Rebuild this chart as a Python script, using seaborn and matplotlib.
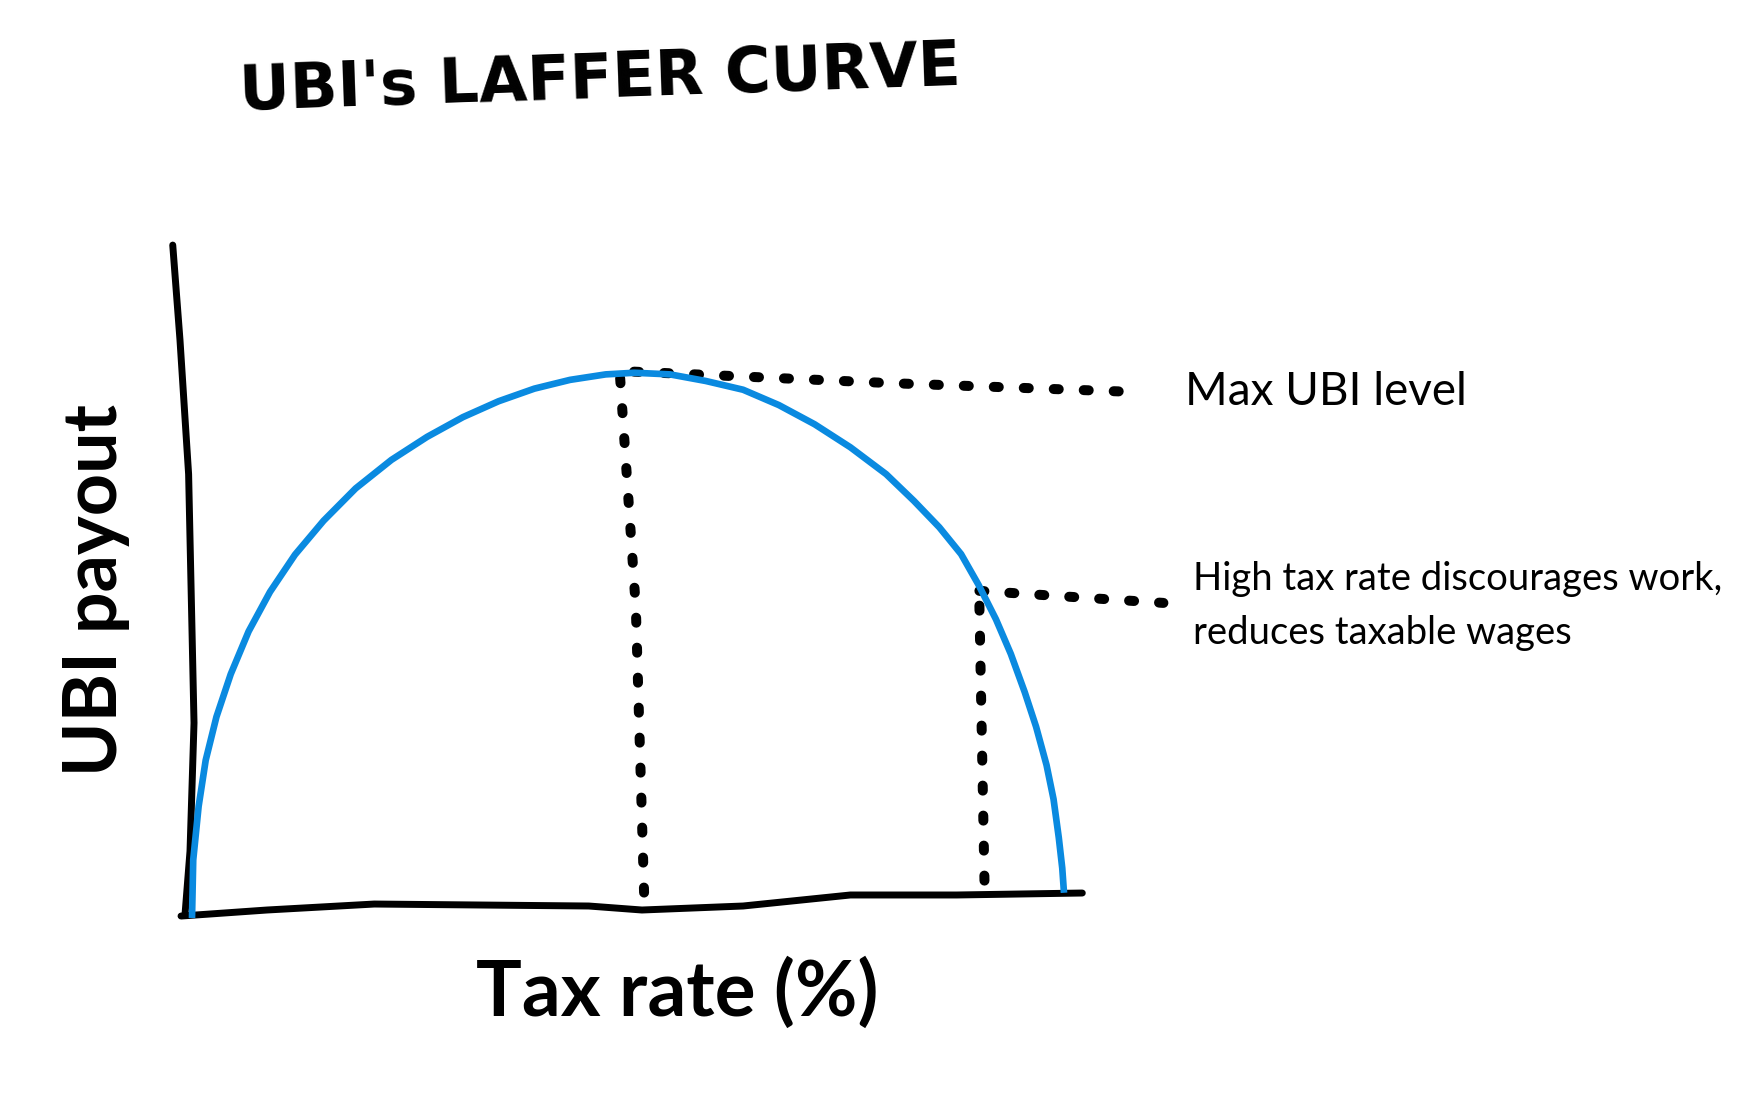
import matplotlib
matplotlib.use("Agg")
import matplotlib.pyplot as plt
import seaborn as sns
import pandas as pd

# ---- data (tax rate %, UBI payout as % of max) ----
curve_tax = [0.0, 0.14, 0.76, 1.57, 2.80, 4.44, 6.49, 8.94, 11.81, 15.09, 18.77,
             22.87, 26.96, 31.07, 35.16, 39.26, 43.35, 47.44, 50.72, 54.82, 58.91,
             63.2, 67.3, 71.4, 75.5, 79.6, 82.8, 85.7, 88.2, 90.2, 92.2, 93.9,
             95.5, 96.8, 98.0, 98.8, 99.4, 99.8, 100.0]
curve_pay = [0.0, 10.6, 20.4, 28.8, 36.7, 44.5, 52.3, 59.5, 66.3, 72.5, 78.4,
             83.6, 87.8, 91.4, 94.3, 96.6, 98.2, 99.2, 99.5, 99.2, 98.0,
             96.4, 93.6, 90.1, 85.9, 81.0, 76.1, 71.3, 66.4, 60.8, 54.5, 48.2,
             41.2, 34.9, 27.9, 21.7, 14.7, 9.1, 4.6]

# hand-drawn axes
yaxis_x = [-2.21, -1.38, -0.39, 0.23, -0.23, -0.8]
yaxis_y = [122.8, 105.5, 81.0, 35.6, 12.2, 0.7]
xaxis_x = [-1.26, 8.6, 20.9, 45.5, 51.6, 63.2, 75.5, 87.7, 102.1]
xaxis_y = [0.36, 1.46, 2.55, 2.19, 1.46, 2.19, 4.2, 4.2, 4.56]

# dotted guide lines
peak_v_x = [49.1, 50.9, 51.9]
peak_v_y = [98.5, 56.6, 1.5]
peak_h_x = [50.7, 80.2, 108.0]
peak_h_y = [99.7, 97.6, 96.0]
high_h_x = [90.3, 111.4]
high_h_y = [59.7, 57.5]
high_v_x = [90.3, 90.9]
high_v_y = [57.0, 5.0]

title = "UBI's LAFFER CURVE"
xlabel = "Tax rate (%)"
ylabel = "UBI payout"
label_max = "Max UBI level"
label_high = "High tax rate discourages work,\nreduces taxable wages"

sns.set_theme(style="white")
plt.rcParams['font.family'] = ['Lato', 'DejaVu Sans']

W, H = 1756, 1096
fig = plt.figure(figsize=(W / 100, H / 100), dpi=100)
ax = fig.add_axes([0, 0, 1, 1])
ax.set_xlim(-22.02, 179.36)
ax.set_ylim(-32.48, 167.52)
ax.axis("off")

blue = "#0a8ae0"
black = "#000000"


def line(xs, ys, **kw):
    df = pd.DataFrame({"x": xs, "y": ys})
    sns.lineplot(data=df, x="x", y="y", sort=False, estimator=None, ax=ax, **kw)


line(yaxis_x, yaxis_y, color=black, lw=5.0, solid_capstyle="round", solid_joinstyle="round")
line(xaxis_x, xaxis_y, color=black, lw=5.0, solid_capstyle="round", solid_joinstyle="round")

for xs, ys in [(peak_v_x, peak_v_y), (peak_h_x, peak_h_y),
               (high_h_x, high_h_y), (high_v_x, high_v_y)]:
    line(xs, ys, color=black, lw=7.2, linestyle=(0, (0.5, 2.5)),
         dash_capstyle="round")

line(curve_tax, curve_pay, color=blue, lw=4.8, solid_capstyle="butt", solid_joinstyle="round")
ax.set_xlabel("")
ax.set_ylabel("")
if ax.get_legend() is not None:
    ax.get_legend().remove()


def ftext(x, y, s, **kw):
    fig.text(x / W, 1 - y / H, s, color="black", **kw)


ftext(600, 80, title, fontsize=45, ha="center", va="center", rotation=2,
      fontweight="bold", family=["DejaVu Sans"])
ftext(96, 590, ylabel, fontsize=53, ha="center", va="center", rotation=90, fontweight="bold")
ftext(677, 993, xlabel, fontsize=55, ha="center", va="center", fontweight="bold")
ftext(1185, 392, label_max, fontsize=33, ha="left", va="center")
ftext(1193, 606, label_high, fontsize=27.5, ha="left", va="center", linespacing=1.6)

fig.savefig("out.png", dpi=100, facecolor="white")
